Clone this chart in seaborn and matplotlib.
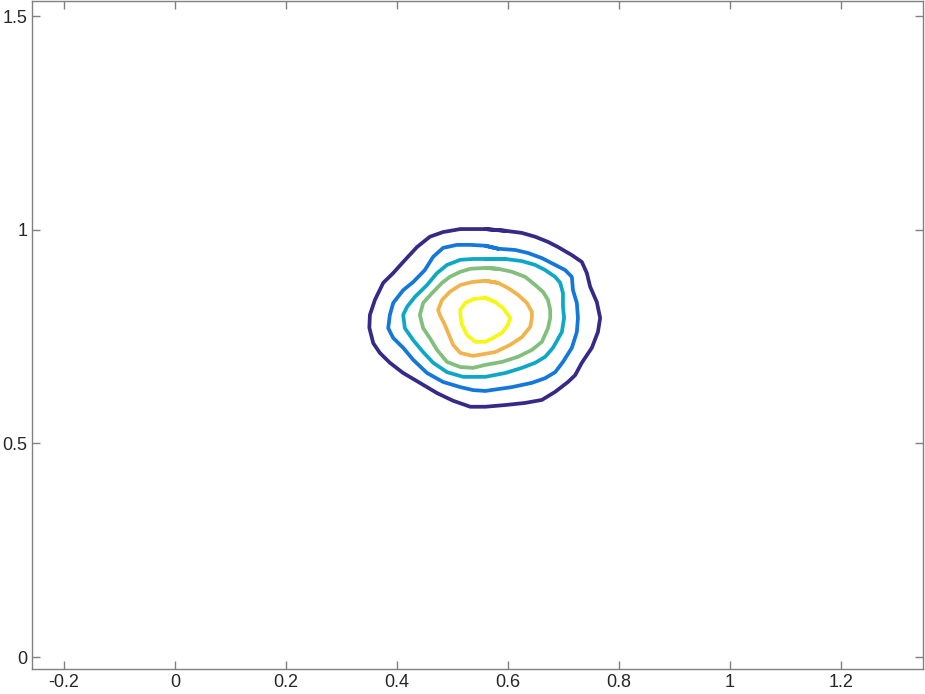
import numpy as np
import pandas as pd
import matplotlib
matplotlib.use("Agg")
import matplotlib.pyplot as plt
import seaborn as sns

# contour vertices (x, y), outer level first
level_1 = [
    (0.559, 1.002), (0.595, 0.998), (0.625, 0.993), (0.649, 0.984), (0.672, 0.972),
    (0.690, 0.960), (0.715, 0.941), (0.733, 0.925), (0.742, 0.899), (0.748, 0.867),
    (0.760, 0.831), (0.766, 0.794), (0.762, 0.761), (0.751, 0.724), (0.733, 0.689),
    (0.721, 0.660), (0.708, 0.644), (0.685, 0.621), (0.661, 0.602), (0.631, 0.595),
    (0.595, 0.590), (0.559, 0.586), (0.532, 0.586), (0.501, 0.600), (0.472, 0.618),
    (0.441, 0.642), (0.411, 0.665), (0.387, 0.689), (0.369, 0.712), (0.357, 0.735),
    (0.350, 0.771), (0.351, 0.801), (0.360, 0.836), (0.375, 0.876), (0.393, 0.899),
    (0.411, 0.925), (0.436, 0.960), (0.459, 0.984), (0.483, 0.995), (0.514, 1.002),
]
level_2 = [
    (0.559, 0.963), (0.582, 0.956), (0.613, 0.953), (0.636, 0.946), (0.661, 0.934),
    (0.685, 0.918), (0.703, 0.906), (0.715, 0.890), (0.717, 0.859), (0.724, 0.829),
    (0.726, 0.794), (0.724, 0.761), (0.715, 0.724), (0.699, 0.691), (0.685, 0.667),
    (0.667, 0.653), (0.643, 0.642), (0.607, 0.632), (0.559, 0.623), (0.537, 0.625),
    (0.514, 0.632), (0.483, 0.644), (0.454, 0.665), (0.429, 0.696), (0.411, 0.724),
    (0.393, 0.747), (0.384, 0.770), (0.387, 0.801), (0.393, 0.829), (0.411, 0.859),
    (0.429, 0.878), (0.450, 0.906), (0.465, 0.937), (0.483, 0.958), (0.508, 0.965),
    (0.532, 0.965),
]
level_3 = [
    (0.559, 0.932), (0.595, 0.932), (0.625, 0.927), (0.649, 0.918), (0.667, 0.906),
    (0.685, 0.890), (0.694, 0.876), (0.699, 0.852), (0.699, 0.820), (0.701, 0.794),
    (0.697, 0.761), (0.681, 0.724), (0.667, 0.703), (0.649, 0.689), (0.625, 0.677),
    (0.595, 0.665), (0.559, 0.656), (0.519, 0.656), (0.490, 0.667), (0.465, 0.689),
    (0.447, 0.714), (0.429, 0.742), (0.414, 0.770), (0.411, 0.801), (0.418, 0.820),
    (0.432, 0.843), (0.454, 0.871), (0.472, 0.899), (0.490, 0.918), (0.514, 0.930),
    (0.537, 0.932),
]
level_4 = [
    (0.559, 0.911), (0.582, 0.909), (0.607, 0.902), (0.631, 0.890), (0.649, 0.871),
    (0.663, 0.855), (0.672, 0.836), (0.676, 0.813), (0.676, 0.794), (0.672, 0.770),
    (0.661, 0.738), (0.643, 0.719), (0.618, 0.703), (0.589, 0.691), (0.559, 0.684),
    (0.537, 0.677), (0.514, 0.679), (0.490, 0.691), (0.472, 0.719), (0.459, 0.747),
    (0.447, 0.770), (0.441, 0.801), (0.447, 0.829), (0.463, 0.852), (0.481, 0.876),
    (0.495, 0.890), (0.514, 0.902), (0.532, 0.909),
]
level_5 = [
    (0.559, 0.881), (0.582, 0.876), (0.600, 0.864), (0.618, 0.848), (0.634, 0.829),
    (0.643, 0.808), (0.643, 0.794), (0.640, 0.773), (0.625, 0.749), (0.604, 0.731),
    (0.577, 0.714), (0.559, 0.710), (0.537, 0.705), (0.514, 0.712), (0.501, 0.731),
    (0.492, 0.759), (0.486, 0.778), (0.477, 0.801), (0.474, 0.813), (0.481, 0.836),
    (0.495, 0.855), (0.514, 0.871), (0.535, 0.878),
]
level_6 = [
    (0.559, 0.841), (0.577, 0.831), (0.591, 0.817), (0.600, 0.801), (0.604, 0.794),
    (0.600, 0.778), (0.589, 0.759), (0.573, 0.747), (0.559, 0.738), (0.541, 0.738),
    (0.526, 0.754), (0.517, 0.778), (0.514, 0.801), (0.514, 0.813), (0.523, 0.829),
    (0.537, 0.838),
]

x_ticks = [-0.2, 0, 0.2, 0.4, 0.6, 0.8, 1, 1.2]
x_tick_labels = ["-0.2", "0", "0.2", "0.4", "0.6", "0.8", "1", "1.2"]
y_ticks = [0, 0.5, 1, 1.5]
y_tick_labels = ["0", "0.5", "1", "1.5"]

# parula-like colours, outer to inner
level_colors = ["#352a87", "#1477db", "#0ea8c6", "#80bf7c", "#f1b44c", "#f7f716"]

sns.set_style("white")
plt.rcParams["font.family"] = ["Liberation Sans", "DejaVu Sans"]

fig = plt.figure(figsize=(9.25, 6.94), dpi=100)
ax = fig.add_axes([0.0346, 0.036, 0.9627, 0.9626])

levels = [level_1, level_2, level_3, level_4, level_5, level_6]
for pts, color in zip(levels, level_colors):
    # repeat the first two points so the loop closes without a seam
    df = pd.DataFrame(pts + pts[:2], columns=["x", "y"])
    sns.lineplot(data=df, x="x", y="y", sort=False, estimator=None,
                 color=color, linewidth=2.7, ax=ax,
                 solid_joinstyle="round", solid_capstyle="round")

ax.set_xlim(-0.258, 1.347)
ax.set_ylim(-0.028, 1.536)
ax.set_xticks(x_ticks)
ax.set_xticklabels(x_tick_labels)
ax.set_yticks(y_ticks)
ax.set_yticklabels(y_tick_labels)
ax.set_xlabel("")
ax.set_ylabel("")

ax.tick_params(direction="in", length=6, width=1, color="#808080",
               labelcolor="#262626", labelsize=13,
               top=True, right=True, bottom=True, left=True)
for side in ax.spines.values():
    side.set_color("#808080")
    side.set_linewidth(1)

fig.savefig("out.png", dpi=100)
